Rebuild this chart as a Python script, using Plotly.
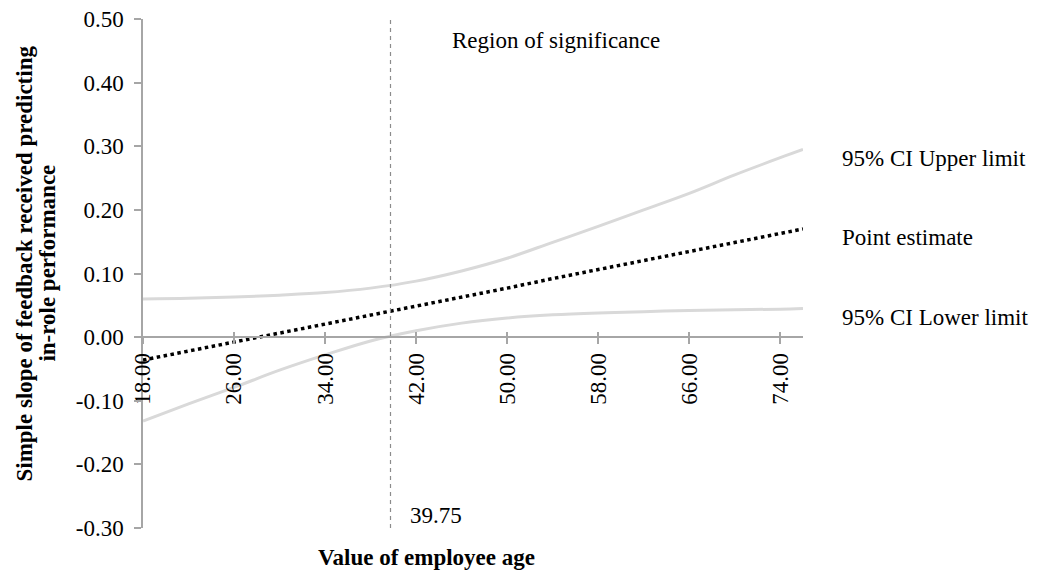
import plotly.graph_objects as go

# ---- data ----
age = [18, 22, 26, 30, 34, 38, 42, 46, 50, 54, 58, 62, 66, 70, 74, 76]
point_estimate = [-0.036, -0.022, -0.008, 0.007, 0.021, 0.035, 0.049, 0.063, 0.077, 0.092, 0.106, 0.120, 0.134, 0.149, 0.163, 0.170]
ci_upper = [0.060, 0.061, 0.063, 0.066, 0.070, 0.077, 0.088, 0.104, 0.124, 0.149, 0.174, 0.200, 0.226, 0.255, 0.282, 0.295]
ci_lower = [-0.132, -0.105, -0.079, -0.052, -0.028, -0.006, 0.010, 0.022, 0.030, 0.035, 0.038, 0.040, 0.042, 0.043, 0.044, 0.045]

jn_point = 39.75
x_ticks = [18, 26, 34, 42, 50, 58, 66, 74]
x_tick_labels = ["18.00", "26.00", "34.00", "42.00", "50.00", "58.00", "66.00", "74.00"]
y_ticks = [-0.3, -0.2, -0.1, 0.0, 0.1, 0.2, 0.3, 0.4, 0.5]
y_tick_labels = ["-0.30", "-0.20", "-0.10", "0.00", "0.10", "0.20", "0.30", "0.40", "0.50"]
x_range = [18, 76]
y_range = [-0.3, 0.5]

FONT = "Liberation Serif"
FS = 23
AXIS_COLOR = "#a6a6a6"
CI_COLOR = "#d9d9d9"

fig = go.Figure()
fig.add_trace(go.Scatter(x=age, y=ci_upper, mode="lines", line=dict(color=CI_COLOR, width=3, shape="spline"), hoverinfo="skip"))
fig.add_trace(go.Scatter(x=age, y=ci_lower, mode="lines", line=dict(color=CI_COLOR, width=3, shape="spline"), hoverinfo="skip"))
fig.add_trace(go.Scatter(x=age, y=point_estimate, mode="lines", line=dict(color="black", width=3.5, dash="dot"), hoverinfo="skip"))
fig.add_trace(go.Scatter(x=[jn_point, jn_point], y=y_range, mode="lines",
                         line=dict(color="#8c8c8c", width=1.2, dash="4px,4px"), hoverinfo="skip"))
# helper trace so the overlaid (inside-tick) x axis is drawn
fig.add_trace(go.Scatter(x=[], y=[], xaxis="x2", showlegend=False))

zero_pos = (0 - y_range[0]) / (y_range[1] - y_range[0])

# page body has an 8px margin, so the figure is sized/offset to compensate
fig.update_layout(
    width=1033, height=570,
    margin=dict(l=135, r=238, t=11, b=50),
    plot_bgcolor="white", paper_bgcolor="white",
    showlegend=False,
    font=dict(family=FONT, size=FS, color="black"),
    xaxis=dict(range=x_range, anchor="free", position=zero_pos, automargin=False,
               tickvals=x_ticks, ticktext=x_tick_labels, tickangle=-90, ticklabeloverflow="allow",
               ticks="outside", ticklen=6, tickcolor=AXIS_COLOR, tickwidth=1.5,
               showline=True, linecolor=AXIS_COLOR, linewidth=1.5,
               showgrid=False, zeroline=False,
               tickfont=dict(family=FONT, size=FS, color="black")),
    xaxis2=dict(range=x_range, overlaying="x", anchor="free", position=zero_pos, automargin=False,
                tickvals=x_ticks, ticks="inside", ticklen=5, tickcolor=AXIS_COLOR, tickwidth=1.5,
                showticklabels=False, showline=False, showgrid=False, zeroline=False),
    yaxis=dict(range=y_range, tickvals=y_ticks, ticktext=y_tick_labels, automargin=False,
               ticklabeloverflow="allow",
               ticks="outside", ticklen=7, tickcolor=AXIS_COLOR, tickwidth=1.5,
               showline=True, linecolor=AXIS_COLOR, linewidth=1.5,
               showgrid=False, zeroline=False, ticklabelstandoff=6,
               tickfont=dict(family=FONT, size=FS, color="black")),
)

# y-axis title (two lines)
fig.add_annotation(text="<b>Simple slope of feedback received predicting</b>", textangle=-90,
                   xref="paper", yref="paper", x=-0.18, y=0.52, showarrow=False,
                   xanchor="center", yanchor="middle", font=dict(family=FONT, size=FS))
fig.add_annotation(text="<b>in-role performance</b>", textangle=-90,
                   xref="paper", yref="paper", x=-0.145, y=0.52, showarrow=False,
                   xanchor="center", yanchor="middle", font=dict(family=FONT, size=FS))
# x-axis title
fig.add_annotation(text="<b>Value of employee age</b>", xref="paper", yref="paper",
                   x=0.429, y=-0.057, showarrow=False, xanchor="center", yanchor="middle",
                   font=dict(family=FONT, size=FS))
# region label
fig.add_annotation(text="Region of significance", xref="x", yref="y", x=54.3, y=0.467,
                   showarrow=False, xanchor="center", yanchor="middle", font=dict(family=FONT, size=FS))
# J-N value label
fig.add_annotation(text=f"{jn_point:.2f}", xref="x", yref="y", x=jn_point, y=-0.28,
                   xshift=17, showarrow=False, xanchor="left", yanchor="middle", font=dict(family=FONT, size=FS))
# series labels on the right
for txt, series in [("95% CI Upper limit", ci_upper), ("Point estimate", point_estimate), ("95% CI Lower limit", ci_lower)]:
    fig.add_annotation(text=txt, xref="paper", yref="y", x=1, y=series[-1], xshift=37, yshift=-9,
                       showarrow=False, xanchor="left", yanchor="middle", font=dict(family=FONT, size=FS))

fig.write_html("out.html")
